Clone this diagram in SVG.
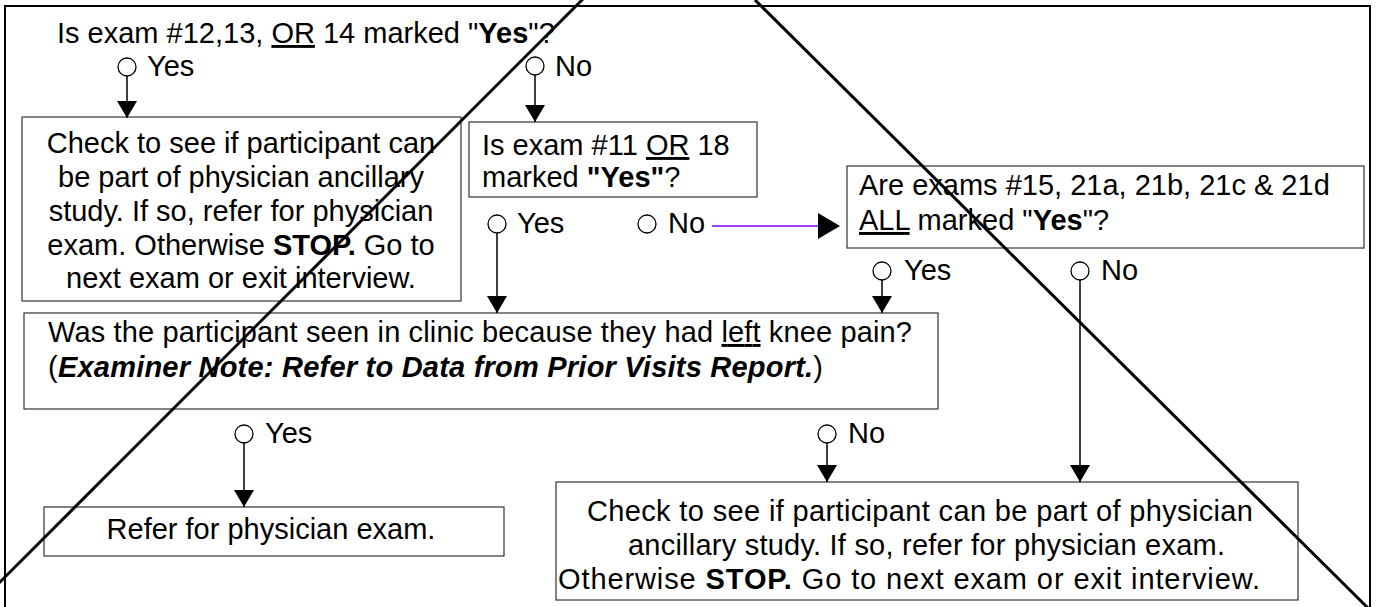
<svg xmlns="http://www.w3.org/2000/svg" width="1378" height="607" viewBox="0 0 1378 607">
<style>
text{font-family:"Liberation Sans",Arial,Helvetica,sans-serif;font-size:29px;fill:#000}
.mid{text-anchor:middle}
.b{font-weight:bold}
.bi{font-weight:bold;font-style:italic}
.u{text-decoration:underline}
.box{fill:#fff;stroke:#333;stroke-width:1.2}
.conn{stroke:#000;stroke-width:1.5;fill:none}
.purple{stroke:#7F00FF;stroke-width:1.6;fill:none}
.dot{fill:#fff;stroke:#000;stroke-width:1.3}
.diag{stroke:#000;stroke-width:3;fill:none}
.frame{stroke:#000;stroke-width:2;fill:none}
</style>
<defs>
<marker id="ah" markerUnits="userSpaceOnUse" markerWidth="17" markerHeight="20" viewBox="0 0 17 20" refX="17" refY="10" orient="auto"><path d="M0,0L17,10L0,20z" fill="#000"/></marker>
</defs>
<rect width="1378" height="607" fill="#fff"/>
<path class="frame" d="M5,612V6H1370V612"/>

<g id="q1">
<text x="57" y="43">Is exam #12,13, <tspan class="u">OR</tspan> 14 marked "<tspan class="b">Yes</tspan>"?</text>
</g>

<g id="checkLeft">
<rect class="box" x="22" y="117" width="439" height="184"/>
<text class="mid" x="241" y="153">Check to see if participant can</text>
<text class="mid" x="241" y="187">be part of physician ancillary</text>
<text class="mid" x="241" y="221">study. If so, refer for physician</text>
<text class="mid" x="241" y="255">exam. Otherwise <tspan class="b">STOP.</tspan> Go to</text>
<text class="mid" x="241" y="288">next exam or exit interview.</text>
</g>

<g id="q2">
<rect class="box" x="469" y="122" width="288" height="75"/>
<text x="482" y="155">Is exam #11 <tspan class="u">OR</tspan> 18</text>
<text x="482" y="187">marked <tspan class="b">"Yes"</tspan>?</text>
</g>

<g id="q3">
<rect class="box" x="847" y="166" width="517" height="82"/>
<text x="859" y="195">Are exams #15, 21a, 21b, 21c &amp; 21d</text>
<text x="859" y="230"><tspan class="u">ALL</tspan> marked "<tspan class="b">Yes</tspan>"?</text>
</g>

<g id="q4">
<rect class="box" x="24" y="313" width="914" height="96"/>
<text x="48" y="342" textLength="864" lengthAdjust="spacing">Was the participant seen in clinic because they had <tspan class="u">left</tspan> knee pain?</text>
<text x="48" y="377" textLength="775" lengthAdjust="spacing">(<tspan class="bi">Examiner Note: Refer to Data from Prior Visits Report.</tspan>)</text>
</g>

<g id="refer">
<rect class="box" x="44" y="507" width="460" height="49"/>
<text class="mid" x="271" y="539">Refer for physician exam.</text>
</g>

<g id="checkRight">
<rect class="box" x="556" y="482" width="742" height="118"/>
<text x="587" y="521" textLength="666" lengthAdjust="spacing">Check to see if participant can be part of physician</text>
<text x="628" y="555" textLength="597" lengthAdjust="spacing">ancillary study. If so, refer for physician exam.</text>
<text x="558" y="589" textLength="702" lengthAdjust="spacing">Otherwise <tspan class="b">STOP.</tspan> Go to next exam or exit interview.</text>
</g>

<g id="connectors">
<path class="conn" d="M127,76V118" marker-end="url(#ah)"/>
<circle class="dot" cx="127" cy="67" r="9"/>
<text x="147" y="76">Yes</text>

<path class="conn" d="M535,75V122" marker-end="url(#ah)"/>
<circle class="dot" cx="535" cy="66" r="9"/>
<text x="555" y="76">No</text>

<path class="conn" d="M497,233V313" marker-end="url(#ah)"/>
<circle class="dot" cx="497" cy="224" r="9"/>
<text x="517" y="233">Yes</text>

<path class="purple" d="M712,226H820"/>
<path d="M818,213L840,226L818,239z" fill="#000"/>
<circle class="dot" cx="647" cy="224" r="9"/>
<text x="668" y="233">No</text>

<path class="conn" d="M882,280V313" marker-end="url(#ah)"/>
<circle class="dot" cx="882" cy="271" r="9"/>
<text x="904" y="280">Yes</text>

<path class="conn" d="M1080,280V482" marker-end="url(#ah)"/>
<circle class="dot" cx="1080" cy="271" r="9"/>
<text x="1101" y="280">No</text>

<path class="conn" d="M244,443V507" marker-end="url(#ah)"/>
<circle class="dot" cx="244" cy="434" r="9"/>
<text x="265" y="443">Yes</text>

<path class="conn" d="M827,443V482" marker-end="url(#ah)"/>
<circle class="dot" cx="827" cy="434" r="9"/>
<text x="848" y="443">No</text>
</g>

<g id="crossout">
<path class="diag" d="M583,-1L-3,585"/>
<path class="diag" d="M755,0L1368,608"/>
</g>
</svg>
